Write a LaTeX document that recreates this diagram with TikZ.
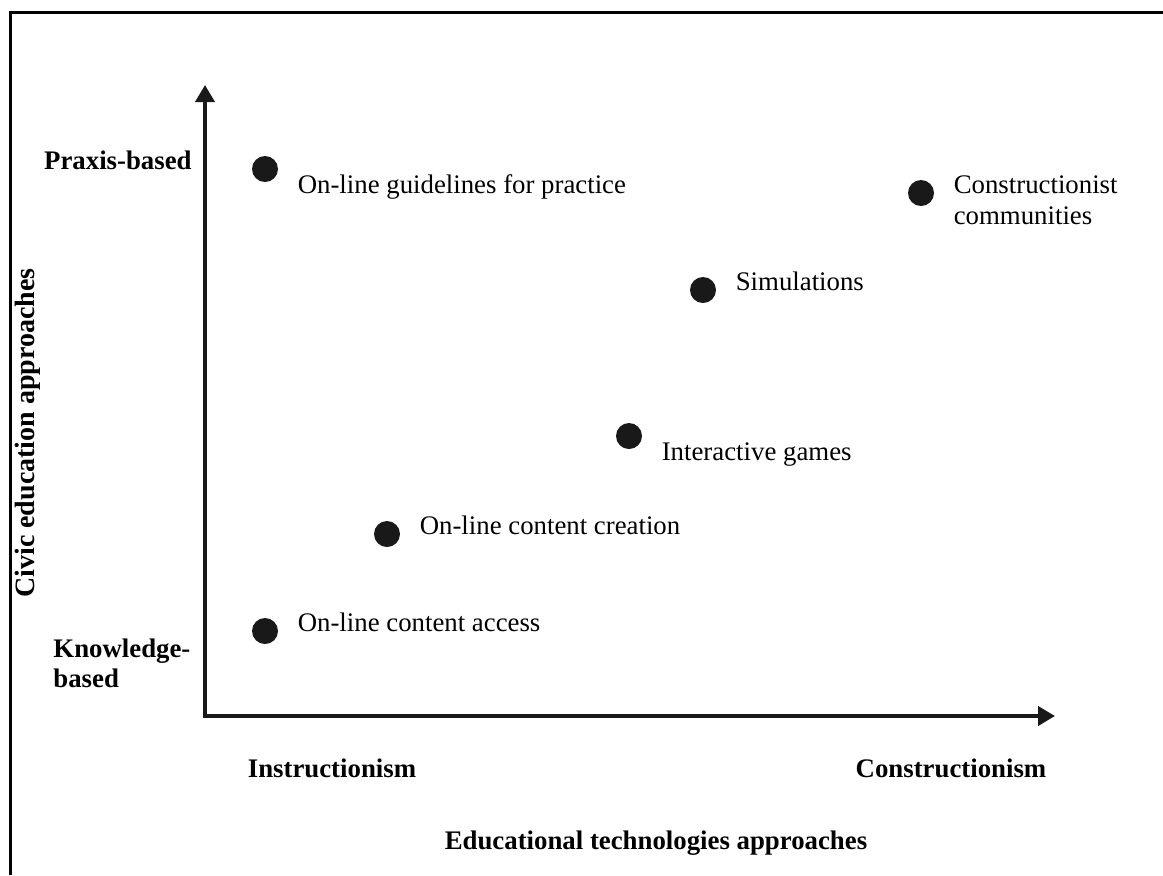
\documentclass[tikz,border=0pt]{standalone}
\usepackage{fontspec}
\setmainfont{Liberation Serif}
\usetikzlibrary{positioning,arrows.meta}
\newcommand{\techdot}[5]{% x, y, name, label drop, label
  \node[dot] (#3) at (#1,#2) {};
  \node[item,right=9.5pt of #3.east,anchor=base west,yshift=#4] (#3-txt) {#5};}

\begin{document}
\begin{tikzpicture}[x=0.5pt,y=-0.5pt,
    dot/.style={circle,fill=black!90,minimum size=13pt,inner sep=0},
    item/.style={inner sep=0,font=\fontsize{13.4}{15.5}\selectfont,align=left},
    pole/.style={inner sep=0,font=\fontsize{13.4}{15}\selectfont\bfseries},
    axis/.style={line width=2pt,black!90,{Triangle[length=8.5pt,width=9.5pt]}-{Triangle[length=8.5pt,width=9.5pt]}}]
  \useasboundingbox (0,0) rectangle (1163,875);
  % page frame
  \draw[line width=1.5pt] (10,875) -- (10,12) -- (1163,12);
  % axes
  \coordinate (origin) at (205,716);
  \coordinate (ytip) at (205,85);
  \coordinate (xtip) at (1055,716);
  \draw[axis] (ytip) -- (origin) -- (xtip);
  % axis poles
  \node[pole,anchor=base east] (praxis) at (192,169) {Praxis-based};
  \node[pole,anchor=base west,align=left] (know) at (53,687) {Knowledge-\\based};
  \node[pole,anchor=base] (instr) at (332,777) {Instructionism};
  \node[pole,anchor=base] (constr) at (951,777) {Constructionism};
  \node[pole,anchor=base] (xtitle) at (656,849) {Educational technologies approaches};
  \node[pole,anchor=base,rotate=90,font=\fontsize{14}{15}\selectfont\bfseries] (ytitle) at (34,433) {Civic education approaches};
  % technologies
  \techdot{265}{169}{guide}{-12pt}{On-line guidelines for practice}
  \techdot{921}{193}{comm}{-15.5pt}{Constructionist\\communities}
  \techdot{703}{290}{sim}{0pt}{Simulations}
  \techdot{629}{436}{games}{-12pt}{Interactive games}
  \techdot{387}{534}{create}{0pt}{On-line content creation}
  \techdot{265}{631}{access}{0pt}{On-line content access}
\end{tikzpicture}
\end{document}
